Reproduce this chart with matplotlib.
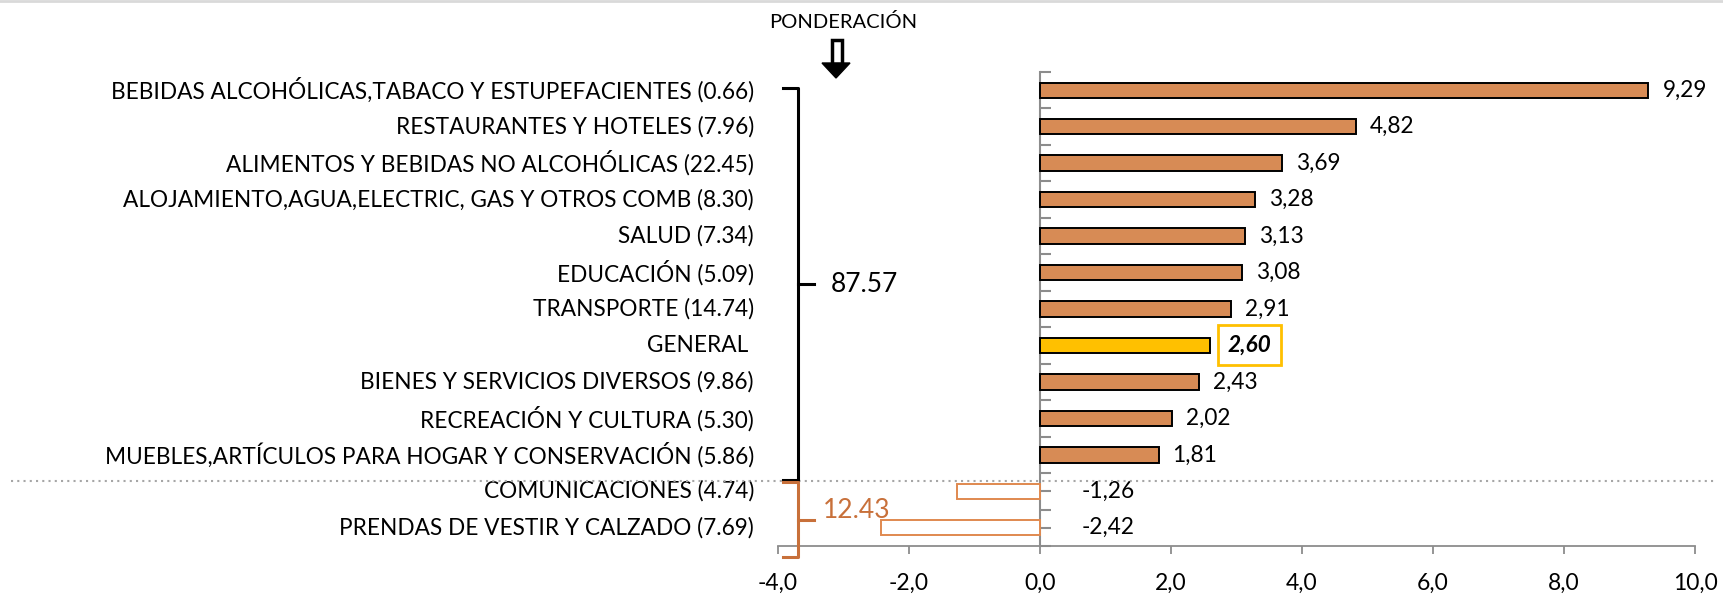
import matplotlib
matplotlib.use('Agg')
import matplotlib.pyplot as plt
import numpy as np
from matplotlib.lines import Line2D
from matplotlib.patches import Polygon, Rectangle
from matplotlib.transforms import blended_transform_factory

categories = [
    "BEBIDAS ALCOHÓLICAS,TABACO Y ESTUPEFACIENTES (0.66)",
    "RESTAURANTES Y HOTELES (7.96)",
    "ALIMENTOS Y BEBIDAS NO ALCOHÓLICAS (22.45)",
    "ALOJAMIENTO,AGUA,ELECTRIC, GAS Y OTROS COMB (8.30)",
    "SALUD (7.34)",
    "EDUCACIÓN (5.09)",
    "TRANSPORTE (14.74)",
    "GENERAL ",
    "BIENES Y SERVICIOS DIVERSOS (9.86)",
    "RECREACIÓN Y CULTURA (5.30)",
    "MUEBLES,ARTÍCULOS PARA HOGAR Y CONSERVACIÓN (5.86)",
    "COMUNICACIONES (4.74)",
    "PRENDAS DE VESTIR Y CALZADO (7.69)",
]
values = [9.29, 4.82, 3.69, 3.28, 3.13, 3.08, 2.91, 2.60, 2.43, 2.02, 1.81, -1.26, -2.42]
x_ticks = [-4.0, -2.0, 0.0, 2.0, 4.0, 6.0, 8.0, 10.0]
total_up = "87.57"
total_down = "12.43"
header = "PONDERACIÓN"

plt.rcParams['font.family'] = ['Lato', 'DejaVu Sans']

W, H = 1723, 597
fig = plt.figure(figsize=(W / 100, H / 100), dpi=100)

def fx(px):
    return px / W

def fy(py):
    return 1 - py / H

ax = fig.add_axes([fx(778), fy(546), fx(1695) - fx(778), fy(72) - fy(546)])
n = len(categories)
ypos = np.arange(n)

BAR = '#D78B55'
ORANGE = '#E0894F'
GOLD = '#FFC000'
faces, edges = [], []
for c, v in zip(categories, values):
    if c.strip() == 'GENERAL':
        faces.append(GOLD); edges.append('black')
    elif v < 0:
        faces.append('white'); edges.append(ORANGE)
    else:
        faces.append(BAR); edges.append('black')

ax.barh(ypos, values, height=0.42, color=faces, edgecolor=edges, linewidth=1.4, zorder=3)
ax.set_xlim(-4, 10)
ax.set_ylim(n - 0.5, -0.5)

for s in ['top', 'right']:
    ax.spines[s].set_visible(False)
ax.spines['left'].set_position(('data', 0))
ax.spines['left'].set_color('#8C8C8C')
ax.spines['left'].set_linewidth(1.5)
ax.spines['bottom'].set_color('#8C8C8C')
ax.spines['bottom'].set_linewidth(1.3)

FS = 16.3
ax.set_xticks(x_ticks)
ax.set_xticklabels([f"{t:.1f}".replace('.', ',') for t in x_ticks], fontsize=16.5)
ax.tick_params(axis='x', direction='out', length=6, color='#8C8C8C', width=1.3, pad=13)
ax.set_yticks(np.arange(-0.5, n, 1.0))
ax.set_yticks(ypos, minor=True)
ax.tick_params(axis='y', which='both', direction='in', length=8, color='#8C8C8C', width=1.5,
               labelleft=False)

trans_lab = blended_transform_factory(fig.transFigure, ax.transData)
for i, c in enumerate(categories):
    ax.text(fx(754), i, c, transform=trans_lab, ha='right', va='center', fontsize=FS)

for i, v in enumerate(values):
    txt = f"{v:.2f}".replace('.', ',')
    if categories[i].strip() == 'GENERAL':
        ax.annotate(txt, xy=(v, i), xytext=(17, 0), textcoords='offset pixels',
                    ha='left', va='center', fontsize=FS, fontweight='bold', fontstyle='italic',
                    bbox=dict(boxstyle='square,pad=0.42', fc='white', ec=GOLD, lw=2))
    elif v < 0:
        ax.text(0.64, i, txt, ha='left', va='center', fontsize=FS)
    else:
        ax.annotate(txt, xy=(v, i), xytext=(14, 0), textcoords='offset pixels',
                    ha='left', va='center', fontsize=FS)

# dotted separator
fig.add_artist(Line2D([fx(11), fx(1715)], [fy(481)] * 2, transform=fig.transFigure,
                      color='#A6A6A6', lw=1.5, linestyle=(0, (1, 2))))

# brackets
def bracket(top, bottom, color):
    mid = (top + bottom) / 2
    xs = [fx(783), fx(798), fx(798), fx(783)]
    ys = [fy(top), fy(top), fy(bottom), fy(bottom)]
    fig.add_artist(Line2D(xs, ys, transform=fig.transFigure, color=color, lw=2.2,
                          solid_joinstyle='round'))
    fig.add_artist(Line2D([fx(798), fx(814)], [fy(mid)] * 2, transform=fig.transFigure,
                          color=color, lw=2.2))
    return mid

m1 = bracket(88, 480, 'black')
m2 = bracket(482, 557, '#C8703A')
fig.text(fx(831), fy(m1), total_up, ha='left', va='center', fontsize=19)
fig.text(fx(823), fy(510), total_down, ha='left', va='center', fontsize=19, color='#C8703A')

# header and arrow
fig.text(fx(843), fy(22), header, ha='center', va='center', fontsize=14.5)
fig.add_artist(Rectangle((fx(832), fy(64)), fx(10), fy(40) - fy(64), transform=fig.transFigure,
                         fc='white', ec='black', lw=2.5))
fig.add_artist(Polygon([[fx(822), fy(63)], [fx(850), fy(63)], [fx(836), fy(78)]],
                       closed=True, transform=fig.transFigure, fc='black', ec='black', lw=1))

# top border
fig.add_artist(Line2D([0, 1], [fy(1)] * 2, transform=fig.transFigure, color='#D9D9D9', lw=2))

fig.savefig('out.png', dpi=100)
